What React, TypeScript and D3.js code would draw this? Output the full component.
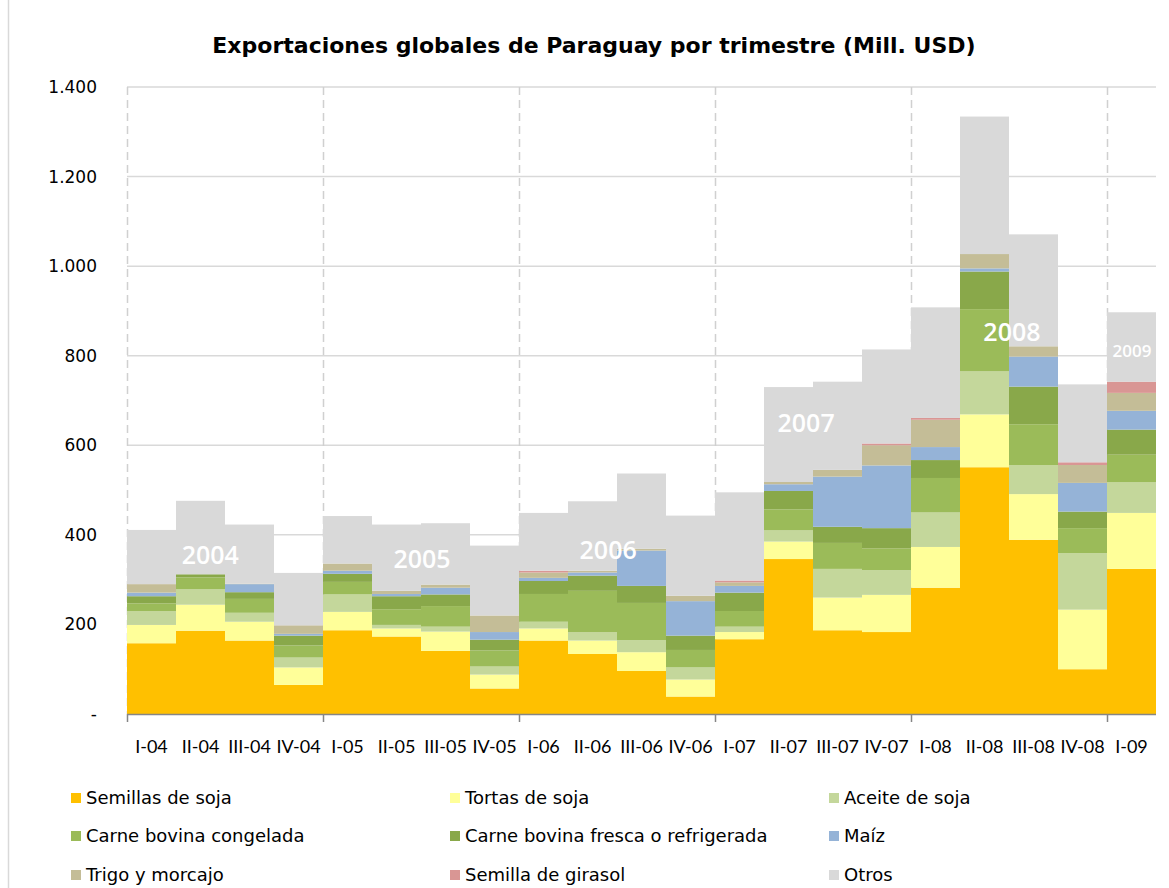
import React, { useEffect, useRef } from "react";
import * as d3 from "d3";

const quarters = [
  "I-04", "II-04", "III-04", "IV-04",
  "I-05", "II-05", "III-05", "IV-05",
  "I-06", "II-06", "III-06", "IV-06",
  "I-07", "II-07", "III-07", "IV-07",
  "I-08", "II-08", "III-08", "IV-08",
  "I-09",
];

// Mill. USD
const semillas = [158, 186, 164, 65, 187, 173, 141, 57, 164, 134, 96, 39, 167, 346, 187, 183, 282, 551, 389, 100, 324];
const tortas = [41, 58, 42, 39, 41, 18, 43, 31, 27, 30, 42, 38, 16, 39, 73, 83, 91, 118, 102, 133, 125];
const aceite = [31, 35, 20, 22, 39, 8, 11, 18, 15, 19, 27, 27, 12, 25, 64, 55, 77, 96, 65, 126, 69];
const congelada = [17, 26, 31, 27, 28, 35, 46, 36, 62, 92, 83, 39, 35, 47, 58, 49, 77, 139, 91, 56, 61];
const fresca = [16, 7, 15, 22, 18, 29, 26, 24, 29, 34, 38, 32, 41, 41, 36, 45, 40, 84, 84, 37, 56];
const maiz = [8, 0, 18, 4, 7, 5, 15, 17, 7, 7, 79, 77, 15, 15, 112, 140, 29, 7, 67, 64, 42];
const trigo = [19, 0, 1, 19, 16, 7, 7, 37, 12, 4, 4, 12, 8, 5, 15, 45, 61, 32, 23, 40, 40];
const girasol = [0, 0, 0, 0, 0, 0, 0, 0, 4, 0, 0, 0, 4, 0, 0, 4, 4, 0, 0, 6, 25];
const otros = [121, 164, 132, 117, 106, 148, 137, 156, 129, 155, 168, 179, 197, 212, 197, 210, 247, 307, 250, 174, 155];

const seriesNames = [
  "Semillas de soja",
  "Tortas de soja",
  "Aceite de soja",
  "Carne bovina congelada",
  "Carne bovina fresca o refrigerada",
  "Maíz",
  "Trigo y morcajo",
  "Semilla de girasol",
  "Otros",
];
const seriesValues = [semillas, tortas, aceite, congelada, fresca, maiz, trigo, girasol, otros];
const seriesColors = ["#FFC000", "#FFFF99", "#C4D79B", "#9BBB59", "#89A84A", "#95B3D7", "#C4BD97", "#D99694", "#D9D9D9"];

const yTicks = [0, 200, 400, 600, 800, 1000, 1200, 1400];

// year annotations: position in bar units from the left edge, value height
const yearLabels = [
  { text: "2004", pos: 1.7, v: 355, size: 25 },
  { text: "2005", pos: 6.02, v: 346, size: 25 },
  { text: "2006", pos: 9.82, v: 366, size: 25 },
  { text: "2007", pos: 13.86, v: 650, size: 25 },
  { text: "2008", pos: 18.06, v: 853, size: 25 },
  { text: "2009", pos: 20.51, v: 810, size: 17 },
];

type Row = { q: string; [k: string]: number | string };

const App: React.FC = () => {
  const svgRef = useRef<SVGSVGElement | null>(null);

  useEffect(() => {
    const width = 1169;
    const height = 888;
    const marginLeft = 127;
    const marginRight = 13;
    const yTop = 87;
    const yBottom = 714;

    const svg = d3.select(svgRef.current).attr("width", width).attr("height", height);
    svg.selectAll("*").remove();

    const x = d3
      .scaleBand<string>()
      .domain(quarters)
      .range([marginLeft, width - marginRight])
      .padding(0);
    const y = d3.scaleLinear().domain([0, 1400]).range([yBottom, yTop]);

    const locale = d3.formatLocale({ decimal: ",", thousands: ".", grouping: [3], currency: ["", ""] });
    const fmt = locale.format(",");

    // chart frame (left edge visible)
    svg.append("line")
      .attr("x1", 8.5).attr("x2", 8.5).attr("y1", 0).attr("y2", height)
      .attr("stroke", "#D9D9D9").attr("stroke-width", 1.5);

    // title
    svg.append("text")
      .attr("x", 594).attr("y", 53)
      .attr("text-anchor", "middle")
      .attr("font-family", "DejaVu Sans")
      .attr("font-weight", "bold")
      .attr("font-size", 22)
      .attr("fill", "#000")
      .text("Exportaciones globales de Paraguay por trimestre (Mill. USD)");

    // horizontal gridlines
    svg.append("g")
      .selectAll("line")
      .data(yTicks.filter((t) => t > 0))
      .join("line")
      .attr("x1", marginLeft).attr("x2", width - marginRight)
      .attr("y1", (d) => y(d)).attr("y2", (d) => y(d))
      .attr("stroke", "#D9D9D9").attr("stroke-width", 1.5);

    // dashed vertical year separators
    const yearStarts = quarters.filter((q) => q.startsWith("I-"));
    svg.append("g")
      .selectAll("line")
      .data(yearStarts)
      .join("line")
      .attr("x1", (d) => x(d)! + 0.5).attr("x2", (d) => x(d)! + 0.5)
      .attr("y1", y(1400)).attr("y2", yBottom)
      .attr("stroke", "#D0D0D0").attr("stroke-width", 1.5)
      .attr("stroke-dasharray", "8,5");

    // stacked bars
    const rows: Row[] = quarters.map((q, i) => {
      const r: Row = { q };
      seriesNames.forEach((n, j) => (r[n] = seriesValues[j][i]));
      return r;
    });
    const stack = d3.stack<Row>().keys(seriesNames).value((d, k) => d[k] as number);
    const stacked = stack(rows);

    svg.append("g")
      .selectAll("g")
      .data(stacked)
      .join("g")
      .attr("fill", (_, i) => seriesColors[i])
      .selectAll("rect")
      .data((d) => d.filter((s) => s[1] - s[0] > 0))
      .join("rect")
      .attr("x", (d) => x(d.data.q)!)
      .attr("y", (d) => y(d[1]))
      .attr("width", x.bandwidth())
      .attr("height", (d) => y(d[0]) - y(d[1]));

    // year labels
    const unit = x.step();
    svg.append("g")
      .selectAll("text")
      .data(yearLabels)
      .join("text")
      .attr("x", (d) => marginLeft + d.pos * unit)
      .attr("y", (d) => y(d.v))
      .attr("dy", "0.35em")
      .attr("text-anchor", "middle")
      .attr("font-family", "Open Sans")
      .attr("font-weight", 600)
      .attr("font-size", (d) => d.size)
      .attr("fill", "#fff")
      .text((d) => d.text);

    // x axis line and ticks
    svg.append("line")
      .attr("x1", marginLeft).attr("x2", width - marginRight)
      .attr("y1", yBottom + 0.5).attr("y2", yBottom + 0.5)
      .attr("stroke", "#868686").attr("stroke-width", 1.5);
    svg.append("g")
      .selectAll("line")
      .data(yearStarts)
      .join("line")
      .attr("x1", (d) => x(d)! + 0.5).attr("x2", (d) => x(d)! + 0.5)
      .attr("y1", yBottom).attr("y2", yBottom + 8)
      .attr("stroke", "#868686").attr("stroke-width", 1.5);

    svg.append("g")
      .selectAll("text")
      .data(quarters)
      .join("text")
      .attr("x", (d) => x(d)! + x.bandwidth() / 2)
      .attr("y", 753)
      .attr("text-anchor", "middle")
      .attr("font-family", "Lato")
      .attr("font-size", 18)
      .attr("fill", "#000")
      .text((d) => d);

    // y labels
    svg.append("g")
      .selectAll("text")
      .data(yTicks)
      .join("text")
      .attr("x", 97)
      .attr("y", (d) => y(d))
      .attr("dy", "0.35em")
      .attr("text-anchor", "end")
      .attr("font-family", "DejaVu Sans")
      .attr("font-size", 17)
      .attr("fill", "#000")
      .text((d) => (d === 0 ? "-" : fmt(d)));

    // legend, 3 columns x 3 rows
    const legendCols = [71, 450, 829];
    const legendRows = [798, 836, 875];
    const legend = svg.append("g")
      .selectAll("g")
      .data(seriesNames)
      .join("g")
      .attr("transform", (_, i) => `translate(${legendCols[i % 3]},${legendRows[Math.floor(i / 3)]})`);
    legend.append("rect")
      .attr("x", 0).attr("y", -5).attr("width", 10).attr("height", 10)
      .attr("fill", (_, i) => seriesColors[i]);
    legend.append("text")
      .attr("x", 15).attr("y", 0).attr("dy", "0.35em")
      .attr("font-family", "DejaVu Sans")
      .attr("font-size", 18)
      .attr("fill", "#000")
      .text((d) => d);
  }, []);

  return <svg ref={svgRef} style={{ position: "absolute", left: 0, top: 0 }}></svg>;
};

export default App;
